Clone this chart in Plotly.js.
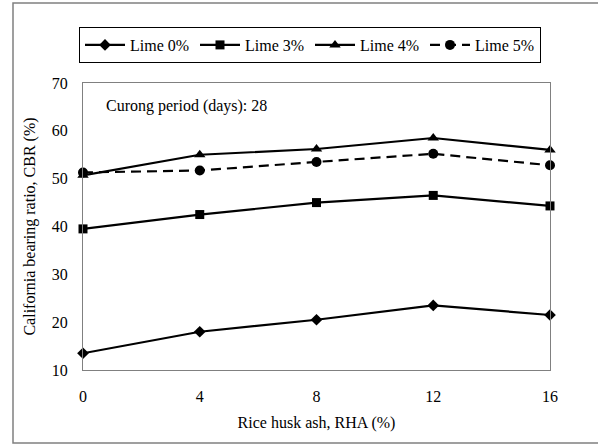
<!DOCTYPE html>
<html><head><meta charset="utf-8">
<script src="https://cdn.plot.ly/plotly-3.0.1.min.js"></script>
<style>html,body{margin:0;padding:0;background:#fff}#chart{width:598px;height:447px}</style>
</head><body><div id="chart"></div>
<script>
const rha = [0, 4, 8, 12, 16];
const lime0 = [13.5, 18.0, 20.5, 23.5, 21.5];
const lime3 = [39.5, 42.5, 45.0, 46.5, 44.3];
const lime4 = [50.7, 55.0, 56.2, 58.5, 56.0];
const lime5 = [51.3, 51.7, 53.5, 55.2, 52.8];
const names = ['Lime 0%', 'Lime 3%', 'Lime 4%', 'Lime 5%'];
const xTicks = [0, 4, 8, 12, 16];
const yTicks = [10, 20, 30, 40, 50, 60, 70];

const font = {family: '"Liberation Serif", "Times New Roman", serif', size: 16, color: '#000000'};
function tr(y, name, sym, size, dash) {
  return {x: rha, y: y, name: name, type: 'scatter', mode: 'lines+markers',
    line: {color: '#000', width: 2.2, dash: dash || 'solid'},
    marker: {symbol: sym, size: size, color: '#000'}, cliponaxis: false};
}
const data = [
  tr(lime0, names[0], 'diamond', 9),
  tr(lime3, names[1], 'square', 9),
  tr(lime4, names[2], 'triangle-up', 10),
  tr(lime5, names[3], 'circle', 10, '10px,6px')
];
const L = 83, R = 550, T = 83, B = 370;
const W = R - L, H = B - T;
const px = v => (v - L) / W, py = v => (B - v) / H;
const layout = {
  width: 598, height: 447, font: font,
  margin: {l: L, r: 598 - R, t: T, b: 447 - B, pad: 0},
  paper_bgcolor: '#fff', plot_bgcolor: '#fff',
  showlegend: true,
  legend: {orientation: 'h', x: px(79), y: py(27), xanchor: 'left', yanchor: 'top',
    bordercolor: '#000', borderwidth: 1, font: font, entrywidth: 60, entrywidthmode: 'pixels',
    itemwidth: 40, tracegroupgap: 0},
  xaxis: {range: [0, 16], tickvals: xTicks, ticks: '', showgrid: false, zeroline: false,
    showline: true, mirror: true, linecolor: '#808080', linewidth: 1,
    ticklabelstandoff: 12, tickfont: font,
    title: {text: 'Rice husk ash, RHA (%)', font: font, standoff: 12}},
  yaxis: {range: [10, 70], tickvals: yTicks, ticks: '', showgrid: false, zeroline: false,
    showline: true, mirror: true, linecolor: '#808080', linewidth: 1,
    ticklabelstandoff: 11, tickfont: font,
    title: {text: 'California bearing ratio, CBR (%)', font: font, standoff: 12}},
  annotations: [{xref: 'paper', yref: 'paper', x: px(104), y: py(106), xanchor: 'left', yanchor: 'middle',
    text: 'Curong period (days): 28', showarrow: false, font: font}],
  shapes: [{type: 'rect', xref: 'paper', yref: 'paper', x0: px(13), x1: px(605), y0: py(443), y1: py(3),
    line: {color: '#808080', width: 1.5}, layer: 'below'}]
};
Plotly.newPlot('chart', data, layout, {staticPlot: true});
</script></body></html>
